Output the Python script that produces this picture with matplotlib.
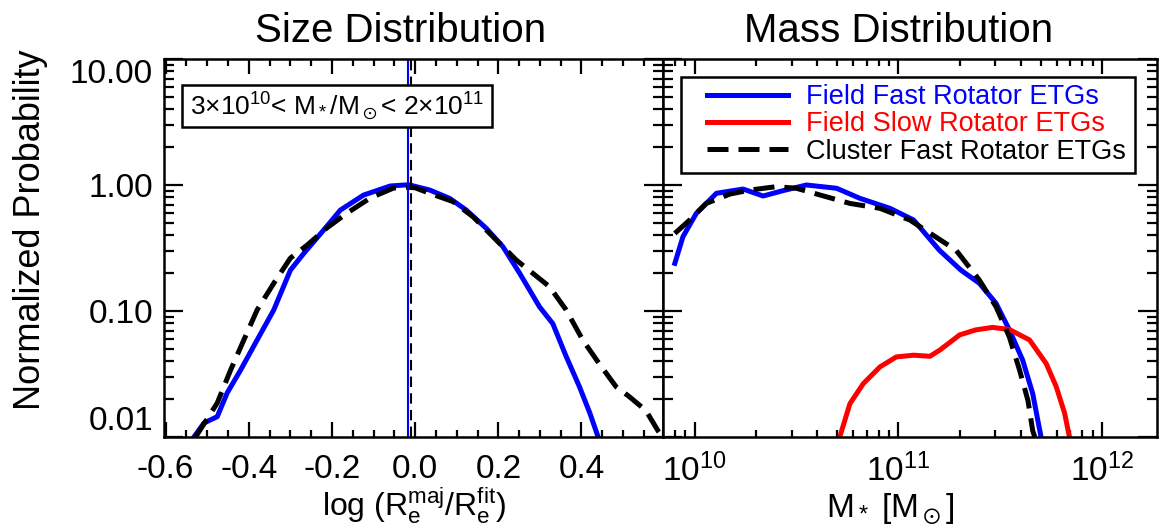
import matplotlib
matplotlib.use("Agg")
import matplotlib.pyplot as plt
from matplotlib.ticker import (MultipleLocator, FormatStrFormatter, FixedLocator,
                               FixedFormatter, LogLocator, NullFormatter)
from matplotlib.patches import Rectangle

plt.rcParams['font.family'] = ['Liberation Sans', 'DejaVu Sans']
plt.rcParams['mathtext.fontset'] = 'custom'
plt.rcParams['mathtext.rm'] = 'Liberation Sans'
plt.rcParams['mathtext.it'] = 'Liberation Sans:italic'
plt.rcParams['mathtext.sf'] = 'Liberation Sans'
plt.rcParams['mathtext.default'] = 'regular'

# ---------------- data ----------------
# Size distribution: log(Re_maj / Re_fit)
size_fast_x = [-0.532, -0.508, -0.476, -0.452, -0.42, -0.38, -0.34, -0.30, -0.268, -0.22,
               -0.18, -0.124, -0.06, -0.025, -0.013, 0.035, 0.083, 0.123, 0.171, 0.211,
               0.251, 0.299, 0.331, 0.363, 0.395, 0.42, 0.44]
size_fast_y = [0.0100, 0.0129, 0.0145, 0.0224, 0.0339, 0.0589, 0.102, 0.211, 0.286, 0.439,
               0.632, 0.832, 0.982, 1.00, 1.00, 0.912, 0.783, 0.632, 0.453, 0.324,
               0.200, 0.108, 0.0794, 0.0437, 0.0251, 0.0155, 0.0100]

size_cluster_x = [-0.528, -0.476, -0.444, -0.412, -0.38, -0.34, -0.30, -0.26, -0.212, -0.164,
                  -0.108, -0.052, -0.02, 0.0, 0.035, 0.091, 0.139, 0.187, 0.243, 0.323,
                  0.363, 0.403, 0.443, 0.483, 0.515, 0.555, 0.584, 0.60]
size_cluster_y = [0.0100, 0.0186, 0.0339, 0.0589, 0.102, 0.166, 0.263, 0.333, 0.457, 0.598,
                  0.789, 0.946, 0.960, 0.950, 0.859, 0.738, 0.560, 0.389, 0.254, 0.156,
                  0.102, 0.0589, 0.0380, 0.0251, 0.0209, 0.0162, 0.0112, 0.0095]

size_fast_median = -0.018
size_cluster_median = -0.010

# Mass distribution: M* [Msun]
mass_fast_x = [8.0e9, 8.77e9, 1.02e10, 1.28e10, 1.73e10, 2.17e10, 2.72e10, 3.54e10, 4.98e10,
               6.49e10, 9.1e10, 1.19e11, 1.59e11, 2.03e11, 2.5e11, 3.02e11, 3.51e11, 4.08e11,
               4.57e11, 5.02e11]
mass_fast_y = [0.239, 0.389, 0.596, 0.859, 0.929, 0.818, 0.902, 1.00, 0.942,
               0.783, 0.653, 0.527, 0.304, 0.211, 0.166, 0.115, 0.0708, 0.0407,
               0.0221, 0.0100]

mass_slow_x = [5.16e10, 5.79e10, 6.73e10, 8.13e10, 9.77e10, 1.19e11, 1.43e11, 1.60e11,
               2.0e11, 2.4e11, 2.9e11, 3.51e11, 4.41e11, 5.32e11, 5.96e11, 6.55e11, 6.92e11]
mass_slow_y = [0.0100, 0.0184, 0.0265, 0.0360, 0.0432, 0.0446, 0.0437, 0.0490,
               0.0646, 0.0708, 0.0741, 0.0713, 0.0589, 0.0383, 0.0251, 0.0155, 0.0100]

mass_cluster_x = [8.0e9, 9.46e9, 1.14e10, 1.49e10, 1.87e10, 2.52e10, 3.16e10, 4.12e10,
                  5.79e10, 8.13e10, 1.14e11, 1.92e11, 2.5e11, 3.02e11, 3.51e11, 3.94e11,
                  4.33e11, 4.57e11, 4.68e11]
mass_cluster_y = [0.413, 0.527, 0.714, 0.847, 0.912, 0.970, 0.942, 0.834,
                  0.714, 0.653, 0.527, 0.304, 0.176, 0.108, 0.0622, 0.0339,
                  0.0195, 0.0112, 0.0100]

series_labels = ['Field Fast Rotator ETGs', 'Field Slow Rotator ETGs',
                 'Cluster Fast Rotator ETGs']
ytick_vals = [0.01, 0.1, 1.0, 10.0]
ytick_labels = ['0.01', '0.10', '1.00', '10.00']

BLUE = '#0000ff'
RED = '#ff0000'
BLACK = '#000000'
LW = 3.6
DASH = (0, (4.2, 2.0))

# ---------------- figure ----------------
fig = plt.figure(figsize=(11.59, 5.27), dpi=100)
W, H = 1159.0, 527.0
axL = fig.add_axes([164 / W, 90 / H, 499 / W, 378 / H])
axR = fig.add_axes([663 / W, 90 / H, 494 / W, 378 / H])


def style_axes(ax):
    for s in ax.spines.values():
        s.set_linewidth(1.8)
    ax.tick_params(which='both', direction='in', top=True, right=True,
                   width=1.6, labelsize=24, colors='black')
    ax.tick_params(axis='x', which='major', length=11, pad=12)
    ax.tick_params(axis='x', which='minor', length=5)
    ax.tick_params(axis='y', which='major', length=14, pad=8)
    ax.tick_params(axis='y', which='minor', length=7)
    ax.set_yscale('log')
    ax.set_ylim(0.01, 10.0)
    ax.yaxis.set_major_locator(FixedLocator(ytick_vals))
    ax.yaxis.set_minor_locator(LogLocator(base=10, subs=range(2, 10)))
    ax.yaxis.set_minor_formatter(NullFormatter())


style_axes(axL)
style_axes(axR)

# ---- left panel ----
axL.plot(size_fast_x, size_fast_y, color=BLUE, lw=LW, solid_joinstyle='round')
axL.plot(size_cluster_x, size_cluster_y, color=BLACK, lw=LW, linestyle=DASH)
axL.axvline(size_fast_median, color=BLUE, lw=1.5)
axL.axvline(size_cluster_median, color=BLACK, lw=1.5, linestyle=(0, (5, 3)))
axL.set_xlim(-0.604, 0.596)
axL.xaxis.set_major_locator(MultipleLocator(0.2))
axL.xaxis.set_minor_locator(MultipleLocator(0.05))
axL.xaxis.set_major_formatter(FormatStrFormatter('%.1f'))
axL.yaxis.set_major_formatter(FixedFormatter(ytick_labels))
axL.set_title('Size Distribution', fontsize=29, pad=12, x=0.474)
axL.set_ylabel('Normalized Probability', fontsize=26)
axL.yaxis.set_label_coords(-0.233, 0.548)
axL.set_xlabel(r'log (R$_e^{maj}$/R$_e^{fit}$)', fontsize=23)
axL.xaxis.set_label_coords(0.5, -0.128)

ylabels = axL.get_yticklabels()
ylabels[0].set_verticalalignment('bottom')
ylabels[-1].set_verticalalignment('top')

axL.add_patch(Rectangle((0.036, 0.820), 0.621, 0.111, transform=axL.transAxes,
                        fill=True, facecolor='white', edgecolor='black', lw=1.8, zorder=5))
axL.text(0.347, 0.873, r'3$\times$10$^{10}$< M$_*$/M$_\odot$< 2$\times$10$^{11}$',
         transform=axL.transAxes, ha='center', va='center', fontsize=19, zorder=6)

# ---- right panel ----
axR.plot(mass_fast_x, mass_fast_y, color=BLUE, lw=LW, label=series_labels[0])
axR.plot(mass_slow_x, mass_slow_y, color=RED, lw=LW, label=series_labels[1])
axR.plot(mass_cluster_x, mass_cluster_y, color=BLACK, lw=LW, linestyle=DASH,
         label=series_labels[2])
axR.set_xscale('log')
axR.set_xlim(10 ** 9.845, 10 ** 12.27)
axR.xaxis.set_major_locator(LogLocator(base=10, numticks=10))
axR.xaxis.set_minor_locator(LogLocator(base=10, subs=range(2, 10), numticks=20))
axR.xaxis.set_minor_formatter(NullFormatter())
axR.tick_params(axis='y', labelleft=False)
axR.set_title('Mass Distribution', fontsize=29, pad=12, x=0.476)
axR.set_xlabel(r'M$_*$ [M$_\odot$]', fontsize=24)
axR.xaxis.set_label_coords(0.46, -0.145)

axR.add_patch(Rectangle((0.036, 0.698), 0.919, 0.254, transform=axR.transAxes,
                        fill=True, facecolor='white', edgecolor='black', lw=1.8, zorder=5))
leg = axR.legend(loc='upper left', bbox_to_anchor=((707 - 663) / 494, (437 - 84) / 378),
                 frameon=False, fontsize=19.5, borderpad=0, borderaxespad=0,
                 handlelength=3.0, handletextpad=0.65, labelspacing=0.05,
                 labelcolor='linecolor')
leg.set_zorder(6)

fig.savefig('out.png', dpi=100)
